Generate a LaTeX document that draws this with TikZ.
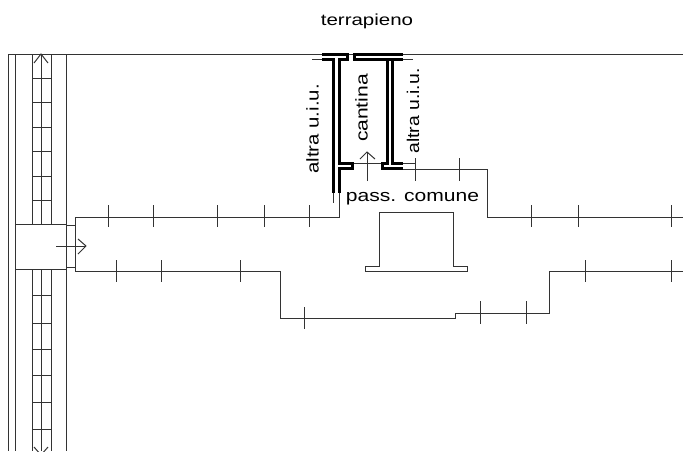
\documentclass[tikz,border=0pt]{standalone}
\usepackage{fontspec}
\setmainfont{Liberation Sans}
\tikzset{
 thin line/.style={draw=black!80,line width=1pt},
 wall/.style={draw=black,line width=3pt,line join=miter},
 tick line/.style={draw=black!80,line width=1pt},
 label text/.style={inner sep=0pt,text=black,font=\fontsize{17}{17}\selectfont},
}
\begin{document}
\begin{tikzpicture}[x=1pt,y=-1pt]
\useasboundingbox (0,0) rectangle (683,451);
\clip (0,0) rectangle (683,451);
% staircase / corridor at left
\draw[thin line] (683,54) -- (8,54) -- (8,451);
\draw[thin line] (15.5,54) -- (15.5,451);
\draw[thin line] (66,54) -- (66,451);
\foreach \x in {32,41,51} {
  \draw[thin line] (\x,54) -- (\x,224);
  \draw[thin line] (\x,269) -- (\x,451);
}
\foreach \y in {78,102,127,151,176,200,295,323,349,375,402,429}
  \draw[thin line] (32,\y) -- (51,\y);
\draw[thin line] (15.5,224) rectangle (66,269);
\draw[thin line] (34,63) -- (41,54) -- (48,63);
\draw[thin line] (34,447) -- (41,455) -- (48,447);
% entrance
\draw[thin line] (66,225.5) -- (75,225.5);
\draw[thin line] (66,267.5) -- (75,267.5);
\draw[thin line] (56,246) -- (86,246);
\draw[thin line] (78,239) -- (86,246) -- (78,254);
% upper corridor outline
\draw[thin line] (339,193) -- (339,217) -- (75,217) -- (75,271) -- (280,271) -- (280,318) -- (455,318) -- (455,313) -- (549,313) -- (549,271) -- (683,271);
\draw[thin line] (403,169) -- (487.5,169) -- (487.5,217) -- (683,217);
\foreach \x in {108,153,217,264,309,531,578,671}
  \draw[tick line] (\x,205) -- (\x,227);
\foreach \x in {116,161,240,585,671}
  \draw[tick line] (\x,260) -- (\x,282);
\draw[tick line] (304,307) -- (304,329);
\foreach \x in {480,526}
  \draw[tick line] (\x,301) -- (\x,324);
\foreach \x in {415,459}
  \draw[tick line] (\x,158) -- (\x,181);
% thin links
\draw[thin line] (312,59) -- (322,59);
\draw[thin line] (403,59) -- (413,59);
\draw[thin line] (353,163) -- (382,163);
\draw[thin line] (403,163) -- (415,163);
\draw[thin line] (333,193) -- (333,203);
% walls
\draw[wall] (322,54) -- (347,54) -- (347,59) -- (339,59) -- (339,163) -- (352,163) -- (352,168.5) -- (339,168.5) -- (339,193);
\draw[wall] (322,59) -- (333,59) -- (333,193);
\draw[wall] (403,54) -- (354,54) -- (354,59) -- (392,59);
\draw[wall] (387,59) -- (387,163) -- (382,163) -- (382,168.5) -- (403,168.5);
\draw[wall] (403,59) -- (392,59) -- (392,163) -- (403,163);
% arrow in cantina
\draw[thin line] (367,181) -- (367,152);
\draw[thin line] (360,159) -- (367,152) -- (375,159);
% hat shape
\draw[thin line] (379,266) -- (379,212) -- (453,212) -- (453,266) -- (467,266) -- (467,271) -- (365,271) -- (365,266) -- cycle;
% labels
\node[label text,font=\fontsize{16}{16}\selectfont,xscale=1.28,anchor=base] (terra) at (367,25) {terrapieno};
\node[label text,xscale=1.24,anchor=base] (pass) at (412.5,201.5) {pass. comune};
\node[label text,rotate=90,xscale=1.2] (ui1) at (312.5,129) {altra u.i.u.};
\node[label text,rotate=90,xscale=1.24] (cant) at (361.5,108) {cantina};
\node[label text,rotate=90,xscale=1.14] (ui2) at (413,111) {altra u.i.u.};
\end{tikzpicture}
\end{document}
